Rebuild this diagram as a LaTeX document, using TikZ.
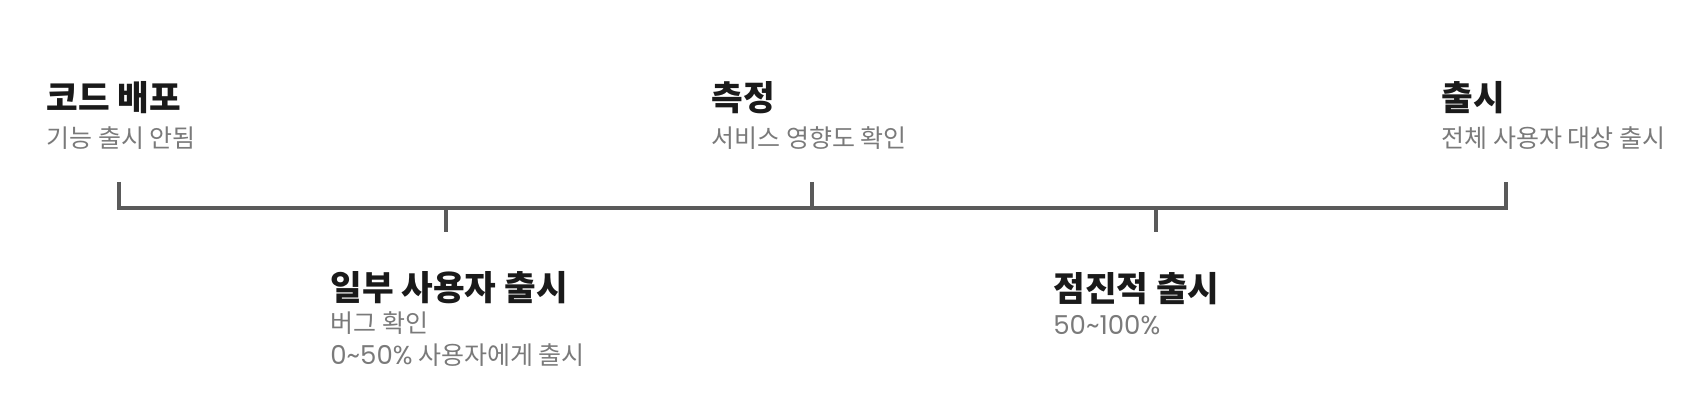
\documentclass[tikz,border=0pt]{standalone}
\usepackage{fontspec}
\setmainfont{Noto Sans CJK KR}
\newfontfamily\latnum{Poppins}
\definecolor{titlecol}{HTML}{1A1A1A}
\definecolor{subcol}{HTML}{7A7A7A}
\definecolor{linecol}{HTML}{5A5A5A}
\tikzset{
  title/.style={anchor=base west, inner sep=0pt, font=\fontsize{17.2}{20}\selectfont\bfseries, text=titlecol},
  sub/.style={anchor=base west, inner sep=0pt, font=\fontsize{12.5}{16}\selectfont, text=subcol},
  numtext/.style={font=\latnum\fontsize{13}{16}\selectfont},
  bar/.style={draw=linecol, line width=2pt, line cap=butt, line join=miter}
}
\begin{document}
\begin{tikzpicture}[x=0.5pt,y=-0.5pt]
\useasboundingbox (0,0) rectangle (1694,406);
% timeline coordinates
\coordinate (ltop) at (119,182);
\coordinate (lbase) at (119,208);
\coordinate (rtop) at (1506,182);
\coordinate (rbase) at (1506,208);
\coordinate (mtop) at (812,182);
\coordinate (mbase) at (812,208);
\coordinate (aup) at (446,208);
\coordinate (adown) at (446,232);
\coordinate (bup) at (1156,208);
\coordinate (bdown) at (1156,232);
\draw[bar] (ltop) -- (lbase) -- (rbase) -- (rtop);
\draw[bar] (mtop) -- (mbase);
\draw[bar] (aup) -- (adown);
\draw[bar] (bup) -- (bdown);
% labels
\node[title] (t1) at (46,111) {코드 배포};
\node[sub] (s1) at (46,148) {기능 출시 안됨};
\node[title] (t2) at (711,111) {측정};
\node[sub] (s2) at (711,148) {서비스 영향도 확인};
\node[title] (t3) at (1441,111) {출시};
\node[sub] (s3) at (1441,148) {전체 사용자 대상 출시};
\node[title] (t4) at (330,301) {일부 사용자 출시};
\node[sub] (s4a) at (330,333) {버그 확인};
\node[sub] (s4b) at (330,365) {{\latnum\fontsize{13}{16}\selectfont 0\textasciitilde 50\%} 사용자에게 출시};
\node[title] (t5) at (1053,302) {점진적 출시};
\node[sub] (s5) at (1053,335) {{\latnum\fontsize{13}{16}\selectfont 50\textasciitilde 100\%}};
\end{tikzpicture}
\end{document}
